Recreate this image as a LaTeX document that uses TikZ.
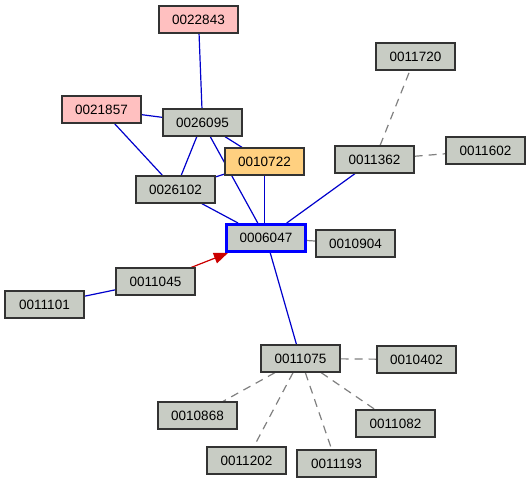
\documentclass[tikz,border=0pt]{standalone}
\usepackage{fontspec}
\setmainfont{Liberation Sans}
\usetikzlibrary{arrows.meta}
\pgfdeclarelayer{edges}
\pgfsetlayers{edges,main}
\definecolor{nodegray}{HTML}{C8CCC4}
\definecolor{pinkfill}{HTML}{FFC0C0}
\definecolor{orangefill}{HTML}{FFD080}
\definecolor{edgeblue}{HTML}{0000CC}
\definecolor{edgered}{HTML}{CC0000}
\definecolor{dashgray}{HTML}{808080}
\definecolor{bordergray}{HTML}{333333}
\begin{document}
\begin{tikzpicture}[x=1pt,y=-1pt,
  box/.style={draw=bordergray,line width=1.3pt,fill=nodegray,minimum width=79pt,minimum height=27pt,inner sep=0pt,font=\fontsize{13.5}{16}\selectfont},
  pinkbox/.style={box,fill=pinkfill},
  orangebox/.style={box,fill=orangefill},
  centerbox/.style={box,draw=blue,line width=3pt},
  solidedge/.style={draw=edgeblue,line width=1.2pt},
  dashedge/.style={draw=dashgray,line width=1.2pt,dash pattern=on 8pt off 6pt},
  arrowedge/.style={draw=edgered,line width=1.2pt,-{Triangle[length=14pt,width=11pt]},fill=edgered}
]
\useasboundingbox (0,0) rectangle (530,483);
\node[pinkbox] (n0022843) at (198.5,19.5) {0022843};
\node[pinkbox] (n0021857) at (101.5,109.5) {0021857};
\node[box] (n0026095) at (202.5,122.5) {0026095};
\node[orangebox] (n0010722) at (264.5,161.5) {0010722};
\node[box] (n0026102) at (175.5,189.5) {0026102};
\node[centerbox] (n0006047) at (266,238) {0006047};
\node[box] (n0010904) at (355.5,243.5) {0010904};
\node[box] (n0011045) at (155.5,281.5) {0011045};
\node[box] (n0011101) at (44.5,304.5) {0011101};
\node[box] (n0011720) at (415.5,56.5) {0011720};
\node[box] (n0011362) at (374.5,159.5) {0011362};
\node[box] (n0011602) at (485.5,150.5) {0011602};
\node[box] (n0011075) at (300.5,358.5) {0011075};
\node[box] (n0010402) at (416.5,359.5) {0010402};
\node[box] (n0010868) at (197.5,415.5) {0010868};
\node[box] (n0011082) at (395.5,423.5) {0011082};
\node[box] (n0011202) at (246.5,460.5) {0011202};
\node[box] (n0011193) at (336.5,463.5) {0011193};
\begin{pgfonlayer}{edges}
\fill[white] (0,0) rectangle (530,483);
\path[solidedge] (n0022843) -- (n0026095);
\path[solidedge] (n0021857) -- (n0026095);
\path[solidedge] (n0021857) -- (n0026102);
\path[solidedge] (n0026095) -- (n0026102);
\path[solidedge] (n0026095) -- (n0010722);
\path[solidedge] (n0026095) -- (n0006047);
\path[solidedge] (n0010722) -- (n0026102);
\path[solidedge] (n0010722.south) -- (n0010722.south |- n0006047.north);
\path[solidedge] (n0026102) -- (n0006047);
\path[solidedge] (n0011362) -- (n0006047);
\path[solidedge] (n0011101) -- (n0011045);
\path[solidedge] (n0006047) -- (n0011075);
\path[dashedge] (n0006047) -- (n0010904);
\path[dashedge] (n0011362) -- (n0011720);
\path[dashedge] (n0011362) -- (n0011602);
\path[dashedge] (n0011075) -- (n0010402);
\path[dashedge] (n0011075) -- (n0010868);
\path[dashedge] (n0011075) -- (n0011202);
\path[dashedge] (n0011075) -- (n0011193);
\path[dashedge] (n0011075) -- (n0011082);
\path[arrowedge] (n0011045) -- (n0006047);
\end{pgfonlayer}
\end{tikzpicture}
\end{document}
